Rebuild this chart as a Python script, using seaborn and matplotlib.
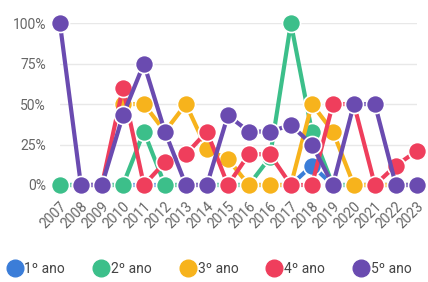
import matplotlib
matplotlib.use("Agg")
import matplotlib.pyplot as plt
from matplotlib.lines import Line2D
import numpy as np
import pandas as pd
import seaborn as sns

# anos (2016 aparece duas vezes no gráfico original)
anos = ["2007", "2008", "2009", "2010", "2011", "2012", "2013", "2014", "2015",
        "2016", "2016", "2017", "2018", "2019", "2020", "2021", "2022", "2023"]
series = ["1º ano", "2º ano", "3º ano", "4º ano", "5º ano"]
cores = ["#3b7dd8", "#3cbf8a", "#f7b31c", "#ef3e5c", "#6a4bb0"]

nan = np.nan
ano1 = [0, 0, 0, 0, 0, 0, 0, 0, 0, 0, 0, 0, 12, 0, 0, 0, 0, 0]
ano2 = [0, 0, 0, 0, 33, 0, 0, 0, 0, 0, 17, 100, 33, 0, 0, 0, 0, 0]
ano3 = [nan, nan, nan, 50, 50, 33, 50, 22, 16, 0, 0, 0, 50, 33, 0, 0, 0, 0]
ano4 = [nan, 0, 0, 60, 0, 14, 19, 33, 0, 19, 19, 0, 0, 50, 50, 0, 12, 21]
ano5 = [100, 0, 0, 43, 75, 33, 0, 0, 43, 33, 33, 37, 25, 0, 50, 50, 0, 0]

linhas = []
for nome, vals in zip(series, [ano1, ano2, ano3, ano4, ano5]):
    for i, v in enumerate(vals):
        linhas.append({"pos": i, "ano": anos[i], "serie": nome, "valor": v})
df = pd.DataFrame(linhas)

sns.set_theme(style="whitegrid")
plt.rcParams["font.family"] = ["Roboto", "DejaVu Sans"]

fig = plt.figure(figsize=(4.28, 2.82), dpi=100)
ax = fig.add_axes([0.140, 0.344, 0.834, 0.574])

for nome, cor in zip(series, cores):
    sub = df[df["serie"] == nome].dropna()
    sns.lineplot(data=sub, x="pos", y="valor", color=cor, linewidth=3,
                 marker="o", markersize=13, markeredgecolor="white",
                 markeredgewidth=1.2, ax=ax, legend=False, clip_on=False)

ax.set_xlim(0, len(anos) - 1)
ax.set_ylim(0, 100)
ax.set_yticks([0, 25, 50, 75, 100])
ax.set_yticklabels(["0%", "25%", "50%", "75%", "100%"])
ax.set_xticks(range(len(anos)))
ax.set_xticklabels(anos, rotation=45, ha="right", rotation_mode="anchor")
ax.tick_params(axis="both", colors="#666666", labelsize=10, length=0)
ax.tick_params(axis="x", pad=10)
ax.tick_params(axis="y", pad=10)
ax.set_xlabel("")
ax.set_ylabel("")
ax.grid(axis="x", visible=False)
ax.grid(axis="y", color="#e8e8e8", linewidth=1)
for s in ax.spines.values():
    s.set_visible(False)

handles = [Line2D([], [], linestyle="none", marker="o", markersize=12,
                  markerfacecolor=c, markeredgecolor=c) for c in cores]
fig.legend(handles, series, loc="center", bbox_to_anchor=(0.49, 0.045),
           ncol=5, frameon=False, fontsize=10, handletextpad=0.2,
           columnspacing=2.1, handlelength=1.0, labelcolor="#444444")

fig.savefig("out.png", dpi=100)
